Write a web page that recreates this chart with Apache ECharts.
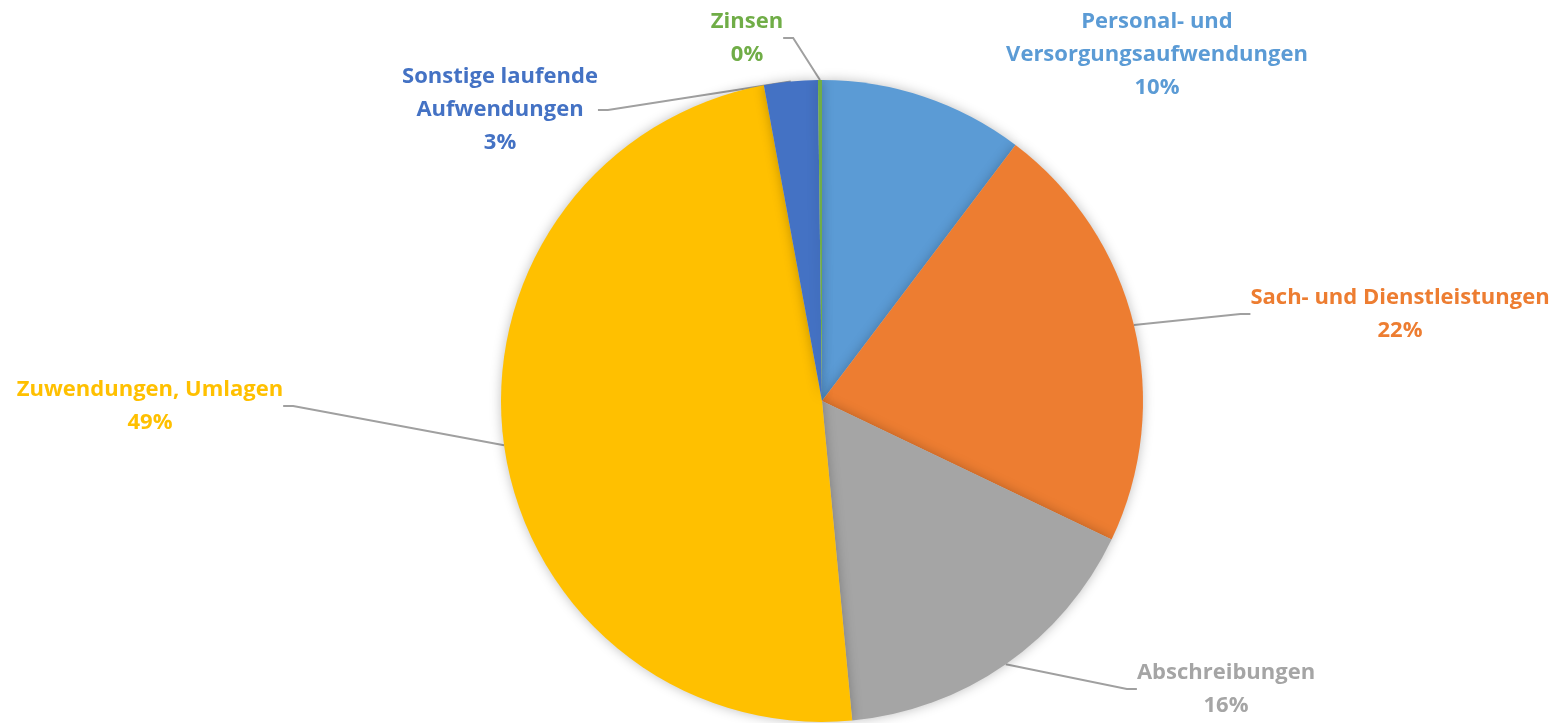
<!DOCTYPE html>
<html>
<head>
<meta charset="utf-8">
<script src="https://cdn.jsdelivr.net/npm/echarts@6/dist/echarts.min.js"></script>
<style>
html, body { margin: 0; padding: 0; background: #fff; }
#chart { width: 1553px; height: 723px; }
</style>
</head>
<body>
<div id="chart"></div>
<script>
// slices, clockwise from 12 o'clock
var categories = [
    'Personal- und\nVersorgungsaufwendungen',
    'Sach- und Dienstleistungen',
    'Abschreibungen',
    'Zuwendungen, Umlagen',
    'Sonstige laufende\nAufwendungen',
    'Zinsen'
];
var values = [10.3, 21.8, 16.4, 48.6, 2.7, 0.2];
var colors = ['#5B9BD5', '#ED7D31', '#A5A5A5', '#FFC000', '#4472C4', '#70AD47'];
// where each label block sits (center)
var labelPos = [[1157, 55], [1400, 314], [1226, 689], [150, 406], [500, 110], [747, 38]];

var chart = echarts.init(document.getElementById('chart'));

var data = categories.map(function (name, i) {
    return {
        name: name,
        value: values[i],
        itemStyle: { color: colors[i] },
        label: { color: colors[i] },
        labelLine: { show: i !== 0 }
    };
});

var option = {
    animation: false,
    series: [{
        type: 'pie',
        center: [822, 401],
        radius: 321,
        startAngle: 90,
        clockwise: true,
        data: data,
        itemStyle: {
            borderWidth: 0,
            shadowBlur: 12,
            shadowColor: 'rgba(0,0,0,0.25)'
        },
        label: {
            show: true,
            position: 'outside',
            fontFamily: 'Open Sans',
            fontWeight: 'bold',
            fontSize: 22,
            lineHeight: 33,
            align: 'center',
            formatter: function (p) {
                return p.name + '\n' + Math.round(p.percent) + '%';
            }
        },
        labelLine: {
            show: true,
            length: 20,
            length2: 10,
            lineStyle: { color: '#A0A0A0', width: 2 }
        },
        labelLayout: function (p) {
            var pos = labelPos[p.dataIndex];
            return {
                x: pos[0],
                y: pos[1],
                align: 'center',
                verticalAlign: 'middle'
            };
        }
    }]
};

chart.setOption(option);
</script>
</body>
</html>
